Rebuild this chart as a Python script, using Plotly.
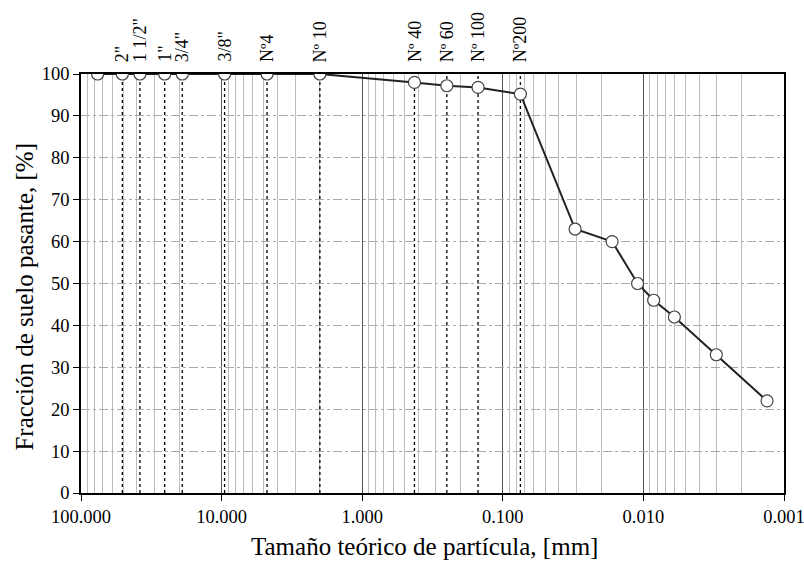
import numpy as np
import plotly.graph_objects as go

# ---- data ----
size_mm = [76.2, 50.8, 38.1, 25.4, 19.05, 9.525, 4.75, 2.0, 0.425, 0.25, 0.15, 0.075,
           0.0306, 0.0167, 0.0110, 0.00845, 0.00602, 0.00303, 0.00132]
passing = [100, 100, 100, 100, 100, 100, 100, 100, 98.0, 97.2, 96.8, 95.2,
           63, 60, 50, 46, 42, 33, 22]

sieve_names = ['2"', '1 1/2"', '1"', '3/4"', '3/8"', 'Nº4', 'Nº 10', 'Nº 40', 'Nº 60', 'Nº 100', 'Nº200']
sieve_sizes = [50.8, 38.1, 25.4, 19.05, 9.525, 4.75, 2.0, 0.425, 0.25, 0.15, 0.075]

x_ticks = [100, 10, 1, 0.1, 0.01, 0.001]
x_ticktext = ["100.000", "10.000", "1.000", "0.100", "0.010", "0.001"]
y_ticks = list(range(0, 101, 10))

FONT = "Liberation Serif"

minor_vals = [k * 10.0 ** d for d in range(-3, 2) for k in range(2, 10)]

fig = go.Figure()

# sieve reference lines
for s in sieve_sizes:
    fig.add_trace(go.Scatter(x=[s, s], y=[0, 100], mode="lines",
                             line=dict(color="black", width=1.3, dash="dot"),
                             showlegend=False, hoverinfo="skip"))

# grading curve
fig.add_trace(go.Scatter(x=size_mm, y=passing, mode="lines+markers",
                         line=dict(color="#222", width=2),
                         marker=dict(size=12, color="white", line=dict(color="#444", width=1.2)),
                         showlegend=False))

for name, s in zip(sieve_names, sieve_sizes):
    fig.add_annotation(x=np.log10(s), y=100, yref="y", xref="x", text=name,
                       textangle=-90, showarrow=False, yanchor="bottom", xanchor="center",
                       yshift=10, font=dict(family=FONT, size=18, color="black"))

fig.add_annotation(text="Tamaño teórico de partícula, [mm]", xref="paper", yref="paper",
                   x=0.489, y=-0.127, xanchor="center", yanchor="middle", showarrow=False,
                   font=dict(family=FONT, size=25, color="black"))
fig.add_annotation(text="Fracción de suelo pasante, [%]", xref="paper", yref="paper",
                   x=-0.081, y=0.469, xanchor="center", yanchor="middle", showarrow=False,
                   textangle=-90, font=dict(family=FONT, size=25, color="black"))

fig.update_xaxes(type="log", range=[2, -3], tickmode="array", tickvals=x_ticks,
                 ticktext=x_ticktext, showgrid=True, gridcolor="#555", gridwidth=1,
                 minor=dict(tickmode="array", tickvals=minor_vals, showgrid=True,
                            gridcolor="#bdbdbd", gridwidth=1, ticks=""),
                 showline=True, linecolor="black", linewidth=1.5, mirror=True,
                 ticks="outside", ticklen=6, tickcolor="black",
                 tickfont=dict(family=FONT, size=18.5, color="black"),
                 ticklabeloverflow="allow",
                 automargin=False, zeroline=False)
fig.update_yaxes(range=[0, 100], tickmode="array", tickvals=y_ticks,
                 showgrid=True, gridcolor="#aaaaaa", griddash="dashdot", gridwidth=1,
                 showline=True, linecolor="black", linewidth=1.5, mirror=True,
                 ticks="outside", ticklen=6, tickcolor="black",
                 tickfont=dict(family=FONT, size=18.5, color="black"),
                 automargin=False, zeroline=False)

fig.update_layout(width=804, height=563, paper_bgcolor="white", plot_bgcolor="white",
                  margin=dict(l=81, r=20, t=74, b=70), font=dict(family=FONT))

fig.write_html("out.html")
